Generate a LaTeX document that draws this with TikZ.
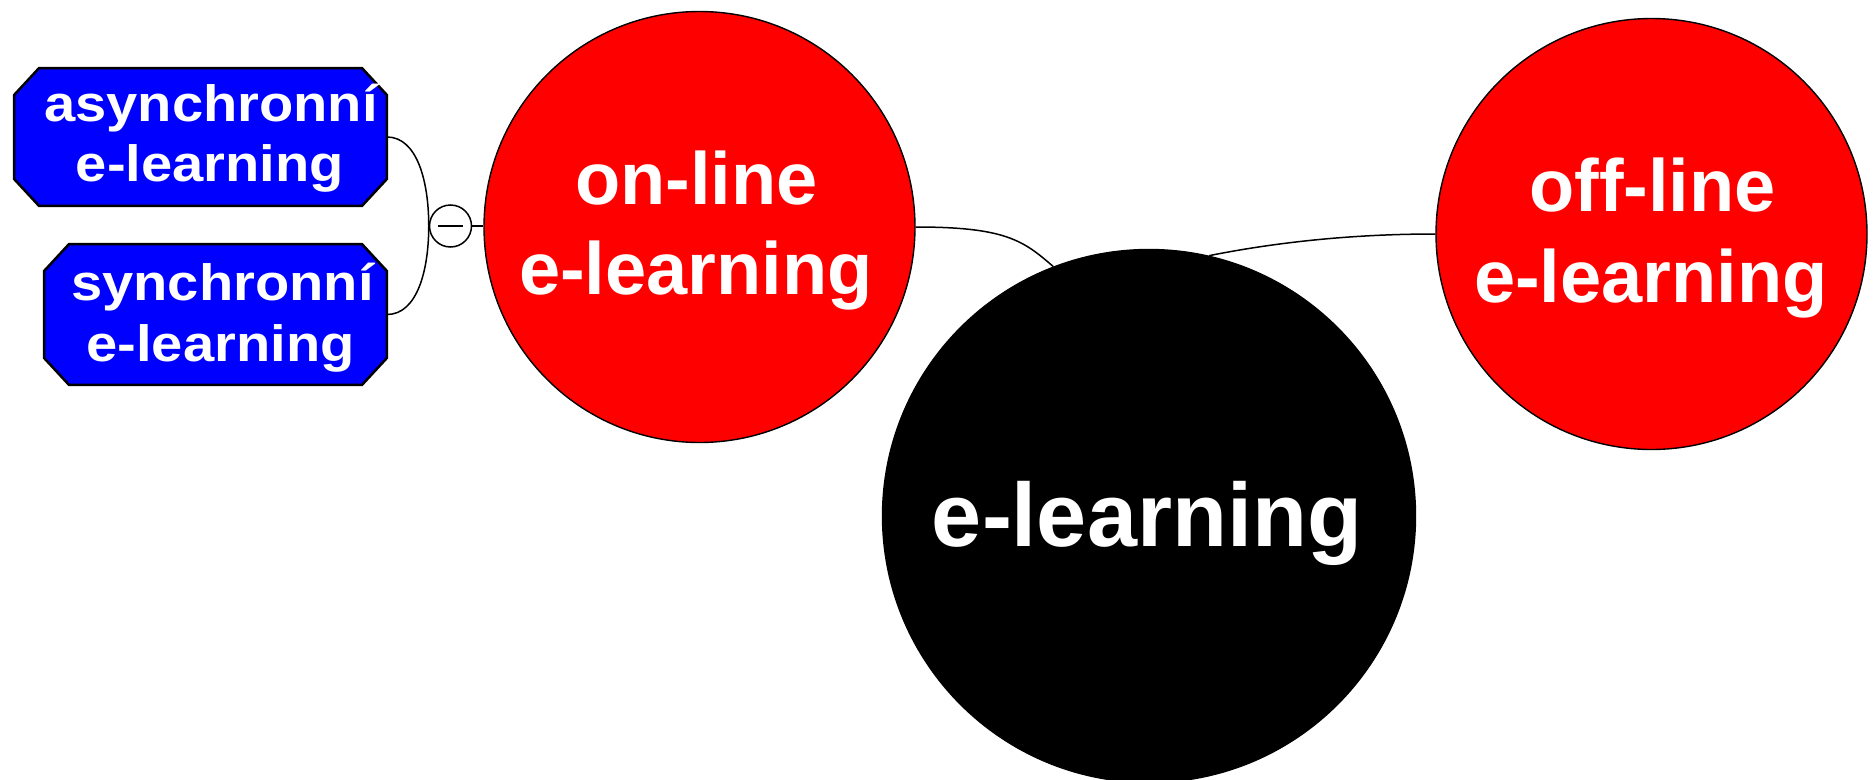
\documentclass[tikz,border=0pt]{standalone}
\usepackage{fontspec}
\setmainfont{Liberation Sans}
\newfontfamily\boxfont[FakeStretch=1.1]{Liberation Sans}
\newcommand\chamferbox[1]{%
  \filldraw[boxedge] ([xshift=25pt]#1.north west) -- ([xshift=-25pt]#1.north east)
    -- ([yshift=-27pt]#1.north east) -- ([yshift=27pt]#1.south east)
    -- ([xshift=-25pt]#1.south east) -- ([xshift=25pt]#1.south west)
    -- ([yshift=27pt]#1.south west) -- ([yshift=-27pt]#1.north west) -- cycle;}
\begin{document}
\begin{tikzpicture}[x=1pt,y=-1pt,
  bubble/.style={circle, draw=black, line width=1.4pt, inner sep=0pt},
  redbubble/.style={bubble, fill=red, minimum size=431pt},
  mainbubble/.style={bubble, fill=black, minimum size=533pt},
  boxframe/.style={rectangle, draw=none, inner sep=0pt},
  boxedge/.style={draw=black, line width=2.5pt, fill=blue, line join=miter},
  collapse/.style={circle, draw=black, line width=1.5pt, fill=white, inner sep=0pt, minimum size=42pt},
  bigtext/.style={text=white, font=\bfseries\fontsize{90}{108}\selectfont, anchor=base, inner sep=0pt},
  midtext/.style={text=white, font=\bfseries\fontsize{74}{90}\selectfont, anchor=base, inner sep=0pt},
  smalltext/.style={text=white, font=\boxfont\bfseries\fontsize{51}{60}\selectfont, anchor=base, inner sep=0pt},
  link/.style={draw=black, line width=1.5pt},
]
\useasboundingbox (0,0) rectangle (1873,779);
\begin{scope}
\clip (0,0) rectangle (1873,779);
% main nodes
\node[mainbubble] (el) at (1149,516) {};
\node[bigtext] (elt) at (1147,546) {e-learning};

\node[redbubble] (online) at (699.5,227) {};
\node[midtext] (online1) at (696.5,204) {on-line};
\node[midtext] (online2) at (696,294) {e-learning};

\node[redbubble] (offline) at (1651.5,234) {};
\node[midtext] (offline1) at (1652.5,211) {off-line};
\node[midtext] (offline2) at (1651,302) {e-learning};

\node[boxframe, minimum width=372.5pt, minimum height=137.5pt] (async) at (200.5,137) {};
\chamferbox{async}
\node[smalltext] (async1) at (211,121) {asynchronní};
\node[smalltext] (async2) at (210,181) {e-learning};

\node[boxframe, minimum width=342.5pt, minimum height=140.5pt] (sync) at (215.5,314.5) {};
\chamferbox{sync}
\node[smalltext] (sync1) at (222.5,300) {synchronní};
\node[smalltext] (sync2) at (220.5,361) {e-learning};

\node[collapse] (coll) at (450.5,226) {};
\draw[line width=2pt] ([xshift=-12.5pt]coll.center) -- ([xshift=12.5pt]coll.center);

% connectors
\draw[link] (async.east) .. controls +(30,0) and +(0,-45) .. (coll.west);
\draw[link] (sync.east) .. controls +(30,0) and +(0,45) .. (coll.west);
\draw[link] (coll.east) -- (coll.east -| online.west);
\draw[link] (online.east) .. controls +(90,0) and +(-30,-26) .. (el.111);
\draw[link] (el.77) .. controls +(70,-14) and +(-80,0) .. (offline.west);
\end{scope}
\end{tikzpicture}
\end{document}
